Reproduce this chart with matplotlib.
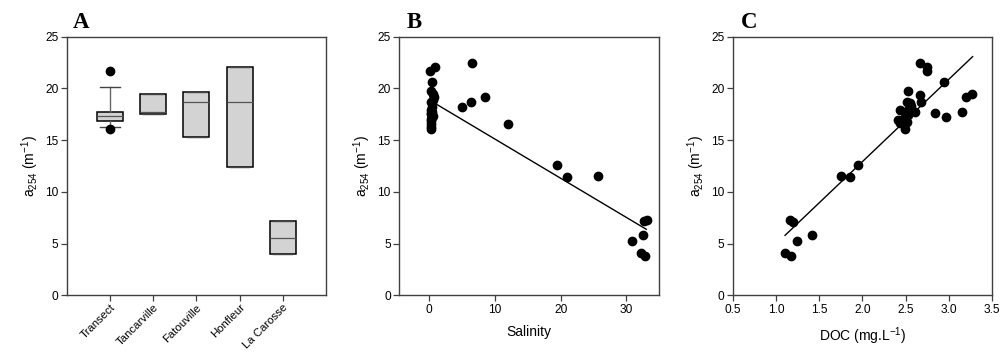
import matplotlib
matplotlib.use("Agg")
import matplotlib.pyplot as plt
import numpy as np

# ---------------- data ----------------
sites = ["Transect", "Tancarville", "Fatouville", "Honfleur", "La Carosse"]
box_q1 = [16.88, 17.53, 15.27, 12.37, 3.99]
box_med = [17.33, 17.75, 18.66, 18.66, 5.57]
box_q3 = [17.75, 19.45, 19.65, 22.10, 7.15]
box_whislo = [16.30, 17.53, 15.27, 12.37, 3.99]
box_whishi = [20.17, 19.45, 19.65, 22.10, 7.15]
box_fliers = [[21.68, 16.08], [], [], [], []]

salinity = [0.1, 0.9, 0.4, 0.2, 0.5, 0.7, 0.6, 0.3, 0.3, 0.4, 0.3, 0.2, 0.5, 0.4, 0.3,
            0.2, 0.3, 0.2, 0.2, 0.4,
            5.0, 6.39, 6.44, 8.46, 11.96, 19.51, 21.03, 25.75,
            30.8, 32.2, 32.8, 32.6, 32.7, 33.1]
a254_B = [21.7, 22.1, 20.65, 19.8, 19.45, 19.2, 18.9, 18.66, 17.9, 17.75, 17.6, 17.5, 17.3, 17.2, 17.05,
          16.9, 16.6, 16.3, 16.08, 18.2,
          18.18, 18.66, 22.43, 19.17, 16.53, 12.63, 11.47, 11.54,
          5.29, 4.06, 3.84, 5.87, 7.15, 7.28]

doc = [2.664, 2.74, 2.74, 2.94, 2.53, 2.664, 2.68, 2.51, 2.55, 2.433, 2.606, 2.51,
       2.837, 2.97, 3.146, 3.195, 3.27, 2.41, 2.43, 2.45, 2.49, 2.51, 2.49, 2.53, 2.53,
       2.56, 1.948, 1.85, 1.75, 1.162, 1.193, 1.42, 1.247, 1.105, 1.17]
a254_C = [22.49, 22.04, 21.71, 20.65, 19.78, 19.36, 18.72, 18.7, 18.56, 17.91, 17.75, 17.75,
          17.65, 17.27, 17.75, 19.2, 19.43, 16.95, 16.7, 16.85, 17.27, 16.78, 16.05, 17.4, 17.9,
          18.3, 12.63, 11.47, 11.54, 7.28, 7.12, 5.87, 5.29, 4.06, 3.8]

# regression lines: (slope, intercept, x start, x end)
fit_B = (-0.3787, 18.89, 0.87, 33.03)
fit_C = (7.97, -3.01, 1.105, 3.273)

yticks = [0, 5, 10, 15, 20, 25]
xticks_B = [0, 10, 20, 30]
xticks_C = [0.5, 1.0, 1.5, 2.0, 2.5, 3.0, 3.5]

# ---------------- style ----------------
plt.rcParams['font.family'] = ['Liberation Sans', 'DejaVu Sans']
plt.rcParams['mathtext.default'] = 'regular'
spine_col = '#404040'
tick_fs = 8.6
label_fs = 10
ylab = 'a$_{254}$ (m$^{-1}$)'

fig = plt.figure(figsize=(10.03, 3.52), dpi=100)
axA = fig.add_axes([0.0665, 0.161, 0.2585, 0.7347])
axB = fig.add_axes([0.3978, 0.161, 0.2595, 0.7347])
axC = fig.add_axes([0.7305, 0.161, 0.2588, 0.7347])

def style(ax):
    for s in ax.spines.values():
        s.set_color(spine_col)
        s.set_linewidth(1.0)
    ax.tick_params(direction='out', length=4, width=0.9, color=spine_col,
                   labelsize=tick_fs, top=False, right=False, pad=2)
    ax.set_ylim(0, 25)
    ax.set_yticks(yticks)
    ax.set_ylabel(ylab, fontsize=label_fs, labelpad=3)

# ---- Panel A ----
stats = []
for i, name in enumerate(sites):
    stats.append(dict(label=name, q1=box_q1[i], med=box_med[i], q3=box_q3[i],
                      whislo=box_whislo[i], whishi=box_whishi[i], fliers=box_fliers[i]))
axA.bxp(stats, positions=np.arange(1, len(sites) + 1), widths=0.6, patch_artist=True,
        boxprops=dict(facecolor='#d3d3d3', edgecolor='black', linewidth=1.1),
        medianprops=dict(color='#555555', linewidth=0.9),
        whiskerprops=dict(color='#666666', linewidth=1.0),
        capprops=dict(color='#444444', linewidth=1.0),
        capwidths=0.45,
        flierprops=dict(marker='o', markerfacecolor='black', markeredgecolor='black',
                        markersize=6))
axA.set_xlim(0, 6)
style(axA)
axA.set_xticks(np.arange(1, len(sites) + 1))
axA.set_xticklabels(sites, rotation=45, ha='right', rotation_mode='anchor', fontsize=8.2)
axA.tick_params(axis='x', pad=1)

# ---- Panel B ----
axB.scatter(salinity, a254_B, s=36, color='black', zorder=3)
xb = np.array([fit_B[2], fit_B[3]])
axB.plot(xb, fit_B[0] * xb + fit_B[1], color='black', lw=1.0)
axB.set_xlim(-4.6, 35)
axB.set_xticks(xticks_B)
style(axB)
axB.set_xlabel('Salinity', fontsize=label_fs, labelpad=7)

# ---- Panel C ----
axC.scatter(doc, a254_C, s=36, color='black', zorder=3)
xc = np.array([fit_C[2], fit_C[3]])
axC.plot(xc, fit_C[0] * xc + fit_C[1], color='black', lw=1.0)
axC.set_xlim(0.5, 3.5)
axC.set_xticks(xticks_C)
axC.set_xticklabels([f"{v:.1f}" for v in xticks_C])
style(axC)
axC.set_xlabel('DOC (mg.L$^{-1}$)', fontsize=label_fs, labelpad=7)

for ax, letter, xo in [(axA, 'A', 0.024), (axB, 'B', 0.031), (axC, 'C', 0.032)]:
    ax.text(xo, 1.034, letter, transform=ax.transAxes, fontsize=16.5, fontweight='bold',
            family=['Liberation Serif', 'DejaVu Serif'], va='baseline', ha='left')

fig.savefig('out.png', dpi=100)
